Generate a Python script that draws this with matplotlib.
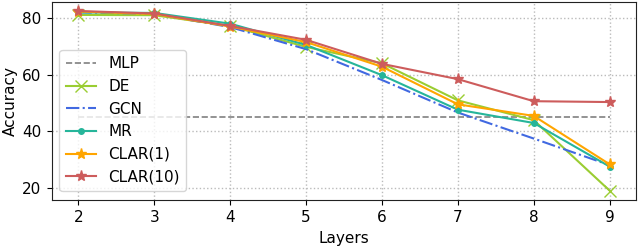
import matplotlib
matplotlib.use("Agg")
import matplotlib.pyplot as plt

# Data
layers = [2, 3, 4, 5, 6, 7, 8, 9]
mlp = 45.0
de = [81.1, 81.0, 77.2, 69.8, 64.0, 50.9, 43.9, 19.0]
gcn = [82.0, 81.5, 76.8, 69.0, 58.1, 46.6, 37.4, 28.0]
mr = [82.0, 81.8, 78.0, 70.5, 59.8, 47.6, 42.9, 27.5]
clar1 = [82.3, 81.4, 77.0, 71.5, 62.8, 49.5, 45.4, 28.3]
clar10 = [82.5, 81.6, 77.2, 72.3, 63.8, 58.4, 50.6, 50.3]

fig = plt.figure(figsize=(6.4, 2.47), dpi=100)
ax = fig.add_axes([0.081, 0.192, 0.913, 0.8])

ax.plot([layers[0], layers[-1]], [mlp, mlp], color="gray", linestyle="--",
        linewidth=1.2, label="MLP")
ax.plot(layers, de, color="yellowgreen", marker="x", markersize=8,
        linewidth=1.5, label="DE")
ax.plot(layers, gcn, color="royalblue", linestyle="-.", linewidth=1.5,
        label="GCN")
ax.plot(layers, mr, color="#26b59a", marker="o", markersize=4,
        linewidth=1.5, label="MR")
ax.plot(layers, clar1, color="orange", marker="*", markersize=8,
        linewidth=1.5, label="CLAR(1)")
ax.plot(layers, clar10, color="indianred", marker="*", markersize=8,
        linewidth=1.5, label="CLAR(10)")

ax.set_xticks(layers)
ax.set_yticks([20, 40, 60, 80])
ax.set_xlabel("Layers", fontsize=11, labelpad=4)
ax.set_ylabel("Accuracy", fontsize=11, labelpad=3)
ax.tick_params(labelsize=11, pad=4)
ax.grid(color="#bbbbbb", linestyle=":", linewidth=1)
for s in ax.spines.values():
    s.set_color("#222222")

ax.legend(loc="center left", bbox_to_anchor=(0.0, 0.4), fontsize=11,
          labelspacing=0.5)

fig.savefig("out.png", dpi=100)
